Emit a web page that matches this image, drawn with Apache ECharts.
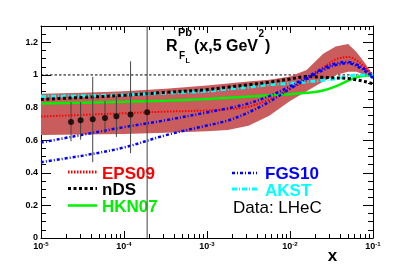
<!DOCTYPE html>
<html><head><meta charset="utf-8">
<script src="https://cdn.jsdelivr.net/npm/echarts@6/dist/echarts.min.js"></script>
<style>html,body{margin:0;padding:0;background:#fff}#c{width:415px;height:265px}</style>
</head><body><div id="c"></div>
<script>
// x grid (values of x) shared by all curves
const xGrid = [1e-5, 3.162e-5, 1e-4, 3.162e-4, 1e-3, 1.778e-3, 3.162e-3, 5.623e-3, 1e-2, 1.585e-2, 2.512e-2, 3.548e-2, 5.012e-2, 6.310e-2, 7.943e-2, 1e-1];
const eps09  = [0.745,0.755,0.765,0.775,0.782,0.79,0.805,0.85,0.915,0.97,1.045,1.095,1.11,1.09,1.05,1.0];
const bandHi = [0.885,0.89,0.9,0.915,0.935,0.948,0.96,0.97,0.99,1.03,1.13,1.175,1.19,1.14,1.075,1.0];
const bandLo = [0.632,0.634,0.638,0.645,0.655,0.662,0.688,0.75,0.84,0.9,0.96,1.0,1.02,1.02,1.0,0.98];
const nds    = [0.85,0.862,0.875,0.893,0.91,0.925,0.94,0.955,0.975,0.99,0.985,0.982,0.978,0.97,0.96,0.945];
const akst   = [0.868,0.872,0.878,0.888,0.9,0.913,0.925,0.94,0.948,0.957,0.967,0.977,0.99,1.0,1.0,1.0];
const hkn07  = [0.825,0.83,0.835,0.842,0.852,0.86,0.867,0.875,0.882,0.89,0.905,0.93,0.965,0.985,0.995,1.0];
const fgsA   = [0.585,0.633,0.68,0.722,0.77,0.795,0.825,0.87,0.93,0.985,1.04,1.07,1.08,1.065,1.035,0.985];
const fgsB   = [0.465,0.505,0.555,0.63,0.69,0.72,0.77,0.835,0.915,0.975,1.03,1.06,1.072,1.055,1.025,0.98];
// pseudo-data LHeC
const dataX  = [2.3e-5, 3.0e-5, 4.2e-5, 5.9e-5, 8.1e-5, 1.2e-4, 1.9e-4];
const dataY  = [0.712, 0.722, 0.728, 0.736, 0.747, 0.757, 0.771];
const errLo  = [0.593, 0.603, 0.465, 0.644, 0.62, 0.52, 0.0];
const errHi  = [0.833, 0.833, 0.988, 0.84, 0.87, 1.083, 1.3];
const unityX = [1e-5, 1e-1];
const unityY = [1, 1];
const yTicks = [0, 1.3];
const legendNames = ['EPS09', 'nDS', 'HKN07', 'FGS10', 'AKST'];

const F = "'Liberation Sans', Arial, Helvetica, sans-serif";
const pair = (xs, ys) => xs.map((x, i) => [x, ys[i]]);

const chart = echarts.init(document.getElementById('c'), null, {renderer: 'canvas'});

const COL = {EPS09: '#ff0000', nDS: '#000000', HKN07: '#00f000', FGS10: '#0000ff', AKST: '#00ffff'};
const STY = {
  EPS09: {w: 2, d: [1.5, 1.5]},
  nDS: {w: 3, d: [3, 2.5]},
  HKN07: {w: 2.5, d: null},
  FGS10: {w: 2.5, d: [3, 2, 1, 2]},
  AKST: {w: 3, d: [5, 2, 1, 2]}
};

function xAx(pos, labels) {
  return {
    type: 'log', logBase: 10, min: 1e-5, max: 0.1, position: pos,
    axisLine: {show: true, onZero: false, lineStyle: {color: '#000', width: 1}},
    axisTick: {show: true, inside: true, length: 7, lineStyle: {color: '#000', width: 1}},
    minorTick: {show: true, splitNumber: 9, length: 4, lineStyle: {color: '#000', width: 1}},
    splitLine: {show: false}, minorSplitLine: {show: false},
    axisLabel: labels ? {
      show: true, margin: 3,
      formatter: v => '{b|10}{s|' + Math.round(Math.log10(v)) + '}',
      rich: {
        b: {fontSize: 9, fontWeight: 'bold', fontFamily: F, color: '#000', lineHeight: 10, padding: [2, 0, 0, 0]},
        s: {fontSize: 6, fontWeight: 'bold', fontFamily: F, color: '#000', lineHeight: 6, verticalAlign: 'top'}
      }
    } : {show: false}
  };
}
function yAx(pos, interval, len, labels, line) {
  return {
    type: 'value', min: yTicks[0], max: yTicks[1], interval: interval, position: pos,
    axisLine: {show: line, onZero: false, lineStyle: {color: '#000', width: 1}},
    axisTick: {show: true, inside: true, length: len, lineStyle: {color: '#000', width: 1}},
    splitLine: {show: false},
    axisLabel: labels ? {show: true, margin: 3, showMaxLabel: false, fontSize: 9, fontWeight: 'bold', fontFamily: F, color: '#000'} : {show: false}
  };
}
function curve(name, ys, z) {
  const c = COL[name], s = STY[name];
  return {
    name: name, type: 'line', xAxisIndex: 0, yAxisIndex: 0, data: pair(xGrid, ys),
    smooth: 0.35, symbol: 'none', showSymbol: false, z: z,
    lineStyle: {color: c, width: s.w, type: s.d || 'solid'}, itemStyle: {color: c}
  };
}
// legend entries (sample line + label), placed like the original ROOT legend
const legPos = {
  EPS09: {x0: 68, x1: 97, ly: 172, tx: 102, ty: 174},
  nDS:   {x0: 68, x1: 97, ly: 188.5, tx: 102, ty: 190.5},
  HKN07: {x0: 68, x1: 97, ly: 205.5, tx: 102, ty: 207},
  FGS10: {x0: 232, x1: 257, ly: 173, tx: 265, ty: 174.5},
  AKST:  {x0: 232, x1: 257, ly: 189, tx: 265, ty: 191}
};
const legendGraphics = [];
legendNames.forEach(n => {
  const p = legPos[n], s = STY[n];
  legendGraphics.push({type: 'line', shape: {x1: p.x0, y1: p.ly, x2: p.x1, y2: p.ly},
    style: {stroke: COL[n], lineWidth: n === 'EPS09' ? 3 : s.w, lineDash: s.d || null}});
  legendGraphics.push({type: 'text', x: p.tx, y: p.ty,
    style: {text: n, font: 'bold 17px ' + F, fill: COL[n], verticalAlign: 'middle'}});
});

const option = {
  animation: false,
  backgroundColor: '#fff',
  grid: {left: 41, right: 42, top: 26, bottom: 27, outerBoundsMode: 'none', containLabel: false},
  xAxis: [xAx('bottom', true), xAx('top', false)],
  yAxis: [yAx('left', 0.2, 10, true, true), yAx('left', 0.05, 5, false, false),
          yAx('right', 0.2, 10, false, true), yAx('right', 0.05, 5, false, false)],
  graphic: [
    {type: 'text', x: 166, y: 47, style: {text: 'R', font: 'bold 16px ' + F, fill: '#000', verticalAlign: 'middle'}},
    {type: 'text', x: 178, y: 33, style: {text: 'Pb', font: 'bold 11px ' + F, fill: '#000', verticalAlign: 'middle'}},
    {type: 'text', x: 179, y: 56.5, style: {text: 'F', font: 'bold 10px ' + F, fill: '#000', verticalAlign: 'middle'}},
    {type: 'text', x: 185.5, y: 61, style: {text: 'L', font: 'bold 7px ' + F, fill: '#000', verticalAlign: 'middle'}},
    {type: 'text', x: 194, y: 47, style: {text: '(x,5 GeV', font: 'bold 16px ' + F, fill: '#000', verticalAlign: 'middle'}},
    {type: 'text', x: 258.5, y: 34, style: {text: '2', font: 'bold 10px ' + F, fill: '#000', verticalAlign: 'middle'}},
    {type: 'text', x: 265, y: 47, style: {text: ')', font: 'bold 16px ' + F, fill: '#000', verticalAlign: 'middle'}},
    {type: 'text', x: 233, y: 208, style: {text: 'Data: LHeC', font: '17px ' + F, fill: '#000', verticalAlign: 'middle'}},
    {type: 'text', x: 332.5, y: 256.5, style: {text: 'x', font: 'bold 17px ' + F, fill: '#000', align: 'center', verticalAlign: 'middle'}}
  ].concat(legendGraphics),
  series: [
    {
      name: 'unity', type: 'line', data: pair(unityX, unityY), symbol: 'none', z: 1,
      lineStyle: {color: '#000', width: 1, type: [2.5, 2]}
    },
    {
      name: 'band', type: 'custom', xAxisIndex: 0, yAxisIndex: 0, z: 2, clip: true,
      data: xGrid.map((x, i) => [x, bandHi[i], bandLo[i]]),
      renderItem: function (params, api) {
        if (params.dataIndex !== 0) return null;
        const pts = [];
        for (let i = 0; i < xGrid.length; i++) pts.push(api.coord([xGrid[i], bandHi[i]]));
        for (let i = xGrid.length - 1; i >= 0; i--) pts.push(api.coord([xGrid[i], bandLo[i]]));
        return {type: 'polygon', shape: {points: pts}, style: {fill: '#c95d5d'}};
      }
    },
    curve('EPS09', eps09, 3),
    curve('HKN07', hkn07, 3),
    curve('AKST', akst, 3),
    curve('nDS', nds, 4),
    curve('FGS10', fgsA, 4),
    curve('FGS10', fgsB, 4),
    {
      name: 'err', type: 'custom', z: 5, clip: true,
      data: dataX.map((x, i) => [x, dataY[i], errLo[i], errHi[i]]),
      renderItem: function (params, api) {
        const a = api.coord([api.value(0), api.value(2)]);
        const b = api.coord([api.value(0), api.value(3)]);
        return {type: 'line', shape: {x1: a[0], y1: a[1], x2: b[0], y2: b[1]}, style: {stroke: '#444', lineWidth: 1}};
      }
    },
    {
      name: 'Data', type: 'scatter', data: pair(dataX, dataY), symbol: 'circle', symbolSize: 6, z: 6,
      itemStyle: {color: '#000'}
    }
  ]
};
chart.setOption(option);
</script></body></html>
